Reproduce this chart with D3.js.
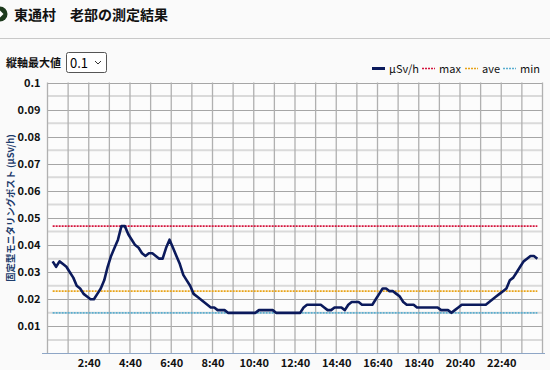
<!DOCTYPE html>
<html><head><meta charset="utf-8">
<script src="https://cdn.jsdelivr.net/npm/d3@7"></script>
<style>
html,body{margin:0;padding:0;background:#fafafa;}
svg{display:block;}
text{font-family:"Noto Sans CJK JP","Noto Sans",sans-serif;}
</style></head>
<body>
<svg id="chart" width="550" height="370"></svg>
<script>
// ---- data ----
const titleText = "東通村　老部の測定結果";
const selectLabel = "縦軸最大値";
const selectValue = "0.1";
const yTitle = "固定型モニタリングポスト (μSv/h)";
const yTicks = [0.01,0.02,0.03,0.04,0.05,0.06,0.07,0.08,0.09,0.1];
const xTickLabels = ["2:40","4:40","6:40","8:40","10:40","12:40","14:40","16:40","18:40","20:40","22:40"];
const startMinute = 55;      // first reading 0:55
const stepMinutes = 10;
const doseValues = [
0.034,0.032,0.034,0.033,0.032,0.030,0.028,0.025,0.024,0.022,
0.021,0.020,0.020,0.022,0.024,0.027,0.032,0.036,0.039,0.042,
0.047,0.047,0.044,0.042,0.040,0.039,0.037,0.036,0.037,0.037,
0.036,0.035,0.035,0.039,0.042,0.039,0.036,0.033,0.029,0.027,
0.025,0.022,0.021,0.020,0.019,0.018,0.017,0.017,0.016,0.016,
0.016,0.015,0.015,0.015,0.015,0.015,0.015,0.015,0.015,0.015,
0.016,0.016,0.016,0.016,0.016,
0.015,0.015,0.015,0.015,0.015,0.015,0.015,0.015,
0.017,0.018,0.018,0.018,0.018,0.018,
0.017,0.016,0.016,0.017,0.017,0.017,0.016,0.018,0.019,0.019,0.019,
0.018,0.018,0.018,0.018,
0.020,0.022,0.024,0.024,0.023,0.023,0.022,0.021,0.019,0.018,
0.018,0.018,
0.017,0.017,0.017,0.017,0.017,0.017,0.017,
0.016,0.016,0.016,0.015,0.016,0.017,
0.018,0.018,0.018,0.018,0.018,0.018,0.018,0.018,
0.019,0.020,0.021,0.022,0.023,0.024,0.027,0.028,0.030,0.032,0.034,0.035,0.036,0.036,0.035
];
const refNames = ["max","ave","min"];
const refValues = [0.047,0.023,0.015];
const refColors = ["#d4143c","#e8a317","#5aaed0"];
const legendLabels = ["μSv/h","max","ave","min"];

// ---- chart ----
const svg = d3.select("#chart");
const L=47.5, R=542.5, T=82.5, B=353.5;
const times = doseValues.map((v,i)=>startMinute+i*stepMinutes);
const x = d3.scaleLinear().domain([40, 1480]).range([L,R]);
const y = d3.scaleLinear().domain([0,0.1]).range([B,T]);

// header
svg.append("circle").attr("cx",0).attr("cy",14).attr("r",7.5).attr("fill","#1d3a1d");
svg.append("path").attr("d","M0,10.5 L3.5,14 L0,17.5 Z").attr("fill","#fff");
svg.append("text").attr("x",14).attr("y",20).attr("font-size",14).attr("font-weight","bold").attr("fill","#111").text(titleText);
svg.append("line").attr("x1",0).attr("x2",550).attr("y1",38.5).attr("y2",38.5).attr("stroke","#c8c8c8");

// select control
svg.append("text").attr("x",6).attr("y",67).attr("font-size",11).attr("font-weight","bold").attr("fill","#111").text(selectLabel);
svg.append("rect").attr("x",66.5).attr("y",52.5).attr("width",40).attr("height",20).attr("rx",2).attr("fill","#fff").attr("stroke","#555");
svg.append("text").attr("x",70).attr("y",67.5).attr("font-size",13).attr("fill","#000").text(selectValue);
svg.append("path").attr("d","M95,61 L98,64 L101,61").attr("fill","none").attr("stroke","#333").attr("stroke-width",1);

// grid
const g = svg.append("g");
g.append("rect").attr("x",L).attr("y",T).attr("width",R-L).attr("height",B-T).attr("fill","#fcfcfc");
const minor = d3.range(0.005,0.1,0.01);
g.selectAll(".hmin").data(minor).join("line")
  .attr("x1",L).attr("x2",R).attr("y1",d=>y(d)).attr("y2",d=>y(d))
  .attr("stroke","#dadada").attr("stroke-width",2);
g.selectAll(".hmaj").data(yTicks).join("line")
  .attr("x1",L).attr("x2",R).attr("y1",d=>Math.round(y(d))+0.5).attr("y2",d=>Math.round(y(d))+0.5)
  .attr("stroke","#a6a6a6").attr("stroke-width",1);
const hours = d3.range(40,1481,60);
g.selectAll(".v").data(hours).join("line")
  .attr("x1",d=>x(d)).attr("x2",d=>x(d)).attr("y1",T).attr("y2",B)
  .attr("stroke","#b0b0b0").attr("stroke-width",1.3);
// bottom axis line
g.append("line").attr("x1",42).attr("x2",545).attr("y1",B).attr("y2",B).attr("stroke","#8ea6c6").attr("stroke-width",1.2);

// y tick labels
const yAxis = d3.axisLeft(y).tickValues(yTicks).tickSize(0).tickPadding(7).tickFormat(d=>String(+d.toFixed(2)));
const ya = svg.append("g").attr("transform",`translate(${L},0)`).call(yAxis);
ya.select(".domain").remove();
ya.selectAll("text").attr("font-size",11).attr("font-weight","bold").attr("fill","#111")
  .attr("font-family","\"Noto Sans CJK JP\",sans-serif");

// x tick labels
const xTickVals = xTickLabels.map(s=>{const [h,m]=s.split(":").map(Number);return h*60+m;});
const xAxis = d3.axisBottom(x).tickValues(xTickVals).tickSize(0).tickPadding(6).tickFormat((d,i)=>xTickLabels[i]);
const xa = svg.append("g").attr("transform",`translate(0,${B})`).call(xAxis);
xa.select(".domain").remove();
xa.selectAll("text").attr("font-size",11).attr("font-weight","bold").attr("fill","#111")
  .attr("font-family","\"Noto Sans CJK JP\",sans-serif");

// y title
svg.append("text").attr("transform","translate(14,208) rotate(-90)").attr("text-anchor","middle")
  .attr("font-size",9.3).attr("font-weight","bold").attr("fill","#1d3c6c").text(yTitle);

// reference lines
const t0 = times[0], t1 = times[times.length-1];
svg.selectAll(".ref").data(refValues).join("line")
  .attr("x1",x(t0)).attr("x2",x(t1)).attr("y1",d=>y(d)).attr("y2",d=>y(d))
  .attr("stroke",(d,i)=>refColors[i]).attr("stroke-width",1.8).attr("stroke-dasharray","2,1");

// data line
const line = d3.line().x((d,i)=>x(times[i])).y(d=>y(d));
svg.append("path").datum(doseValues).attr("d",line).attr("fill","none")
  .attr("stroke","#0b1a5c").attr("stroke-width",2.6).attr("stroke-linejoin","round");

// legend
const legX = [372,422,465,503];
const legColors = ["#0b1a5c"].concat(refColors);
const lg = svg.append("g");
legendLabels.forEach((lab,i)=>{
  const ln = lg.append("line").attr("x1",legX[i]).attr("x2",legX[i]+13).attr("y1",68.5).attr("y2",68.5)
    .attr("stroke",legColors[i]);
  if(i===0) ln.attr("stroke-width",3); else ln.attr("stroke-width",1.5).attr("stroke-dasharray","2,1");
  lg.append("text").attr("x",legX[i]+17).attr("y",72.5).attr("font-size",11).attr("fill","#111")
    .attr("font-family","\"DejaVu Sans\",sans-serif").text(lab);
});
</script>
</body></html>
